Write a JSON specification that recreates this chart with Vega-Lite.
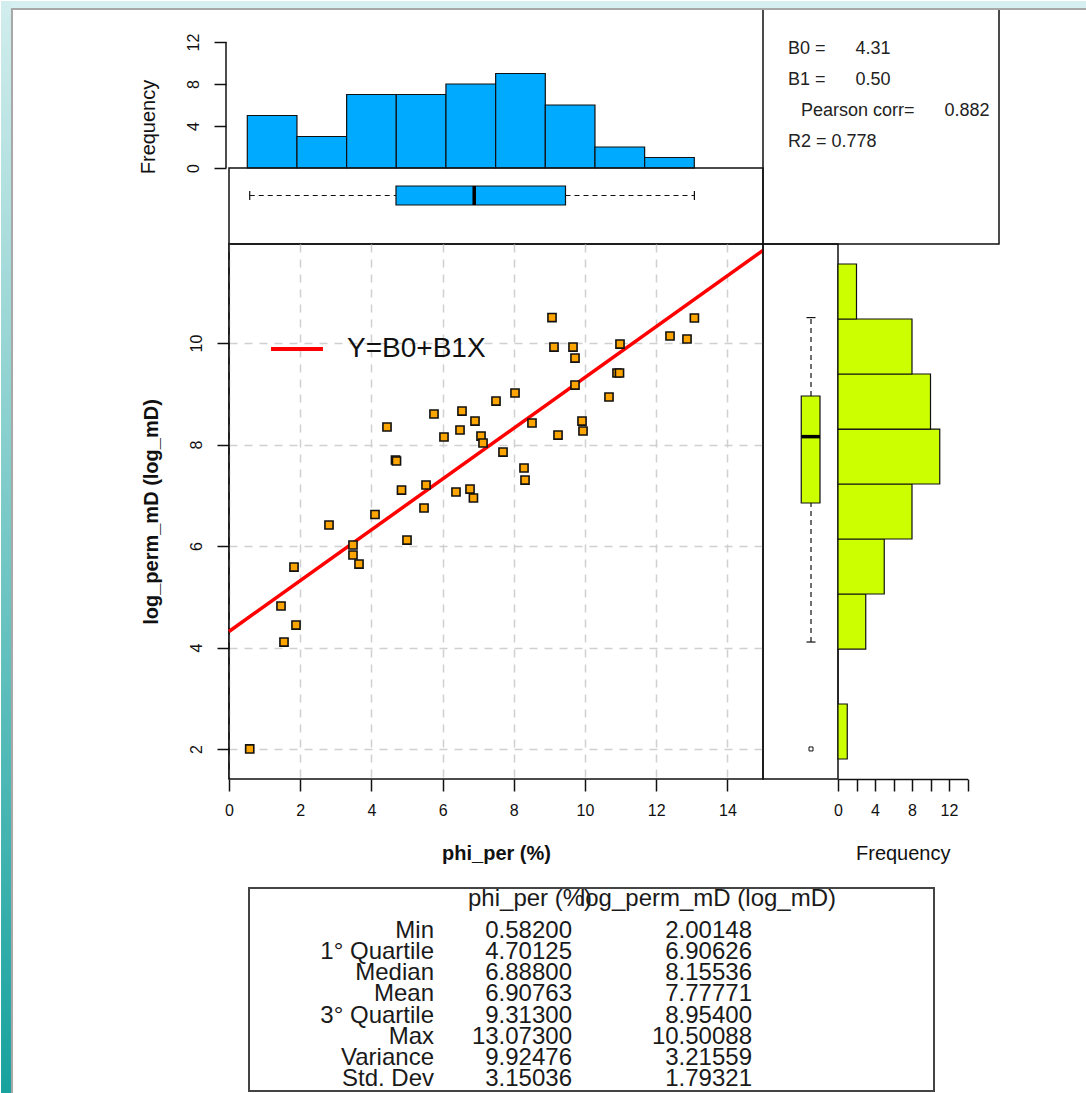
{
  "$schema": "https://vega.github.io/schema/vega-lite/v6.json",
  "padding": 0,
  "background": "white",
  "config": {
    "font": "Liberation Sans",
    "axis": {"labelFont": "Liberation Sans", "titleFont": "Liberation Sans", "labelColor": "#111", "tickColor": "#111", "domainColor": "#111", "titleColor": "#111", "labelFontSize": 16, "titleFontSize": 20, "tickWidth": 1.5, "domainWidth": 1.5, "titleFontWeight": "normal", "labelFlush": false, "labelOverlap": false},
    "legend": {"labelFont": "Liberation Sans"}
  },
  "datasets": {
    "pts": [
      {"x": 0.582, "y": 2.001}, {"x": 1.461, "y": 4.818}, {"x": 1.545, "y": 4.108}, {"x": 1.826, "y": 5.586}, {"x": 1.882, "y": 4.443},
      {"x": 2.809, "y": 6.414}, {"x": 3.483, "y": 6.020}, {"x": 3.483, "y": 5.823}, {"x": 3.652, "y": 5.645}, {"x": 4.101, "y": 6.621},
      {"x": 4.438, "y": 8.345}, {"x": 4.677, "y": 7.695}, {"x": 4.705, "y": 7.675}, {"x": 4.846, "y": 7.103}, {"x": 5.000, "y": 6.118},
      {"x": 5.478, "y": 6.749}, {"x": 5.534, "y": 7.202}, {"x": 5.758, "y": 8.601}, {"x": 6.039, "y": 8.148}, {"x": 6.376, "y": 7.064},
      {"x": 6.489, "y": 8.286}, {"x": 6.545, "y": 8.660}, {"x": 6.770, "y": 7.123}, {"x": 6.866, "y": 6.946}, {"x": 6.910, "y": 8.463},
      {"x": 7.079, "y": 8.167}, {"x": 7.135, "y": 8.030}, {"x": 7.500, "y": 8.857}, {"x": 7.697, "y": 7.852}, {"x": 8.034, "y": 9.015},
      {"x": 8.287, "y": 7.537}, {"x": 8.315, "y": 7.300}, {"x": 8.511, "y": 8.424}, {"x": 9.073, "y": 10.501}, {"x": 9.129, "y": 9.921},
      {"x": 9.242, "y": 8.187}, {"x": 9.663, "y": 9.921}, {"x": 9.719, "y": 9.704}, {"x": 9.719, "y": 9.172}, {"x": 9.916, "y": 8.463},
      {"x": 9.944, "y": 8.266}, {"x": 10.674, "y": 8.936}, {"x": 10.899, "y": 9.409}, {"x": 10.969, "y": 9.409}, {"x": 10.983, "y": 9.980},
      {"x": 12.388, "y": 10.138}, {"x": 12.865, "y": 10.079}, {"x": 13.073, "y": 10.493}
    ],
    "th": [
      {"b0": 0.514, "b1": 1.909, "n": 5}, {"b0": 1.909, "b1": 3.304, "n": 3}, {"b0": 3.304, "b1": 4.699, "n": 7},
      {"b0": 4.699, "b1": 6.094, "n": 7}, {"b0": 6.094, "b1": 7.490, "n": 8}, {"b0": 7.490, "b1": 8.885, "n": 9},
      {"b0": 8.885, "b1": 10.280, "n": 6}, {"b0": 10.280, "b1": 11.675, "n": 2}, {"b0": 11.675, "b1": 13.070, "n": 1}
    ],
    "rh": [
      {"b0": 1.803, "b1": 2.887, "n": 1}, {"b0": 2.887, "b1": 3.970, "n": 0}, {"b0": 3.970, "b1": 5.054, "n": 3},
      {"b0": 5.054, "b1": 6.138, "n": 5}, {"b0": 6.138, "b1": 7.222, "n": 8}, {"b0": 7.222, "b1": 8.305, "n": 11},
      {"b0": 8.305, "b1": 9.389, "n": 10}, {"b0": 9.389, "b1": 10.473, "n": 8}, {"b0": 10.473, "b1": 11.557, "n": 2}
    ],
    "xbox": [{"lo": 0.582, "q1": 4.691, "med": 6.888, "q3": 9.452, "hi": 13.073}],
    "ybox": [{"lo": 4.108, "q1": 6.847, "med": 8.155, "q3": 8.956, "hi": 10.501}],
    "stats": [
      {"line": 1, "t": "B0 =\u00a0\u00a0\u00a0\u00a0\u00a0\u00a04.31"},
      {"line": 2, "t": "B1 =\u00a0\u00a0\u00a0\u00a0\u00a0\u00a00.50"},
      {"line": 3, "t": "Pearson corr=\u00a0\u00a0\u00a0\u00a0\u00a0\u00a00.882"},
      {"line": 4, "t": "R2 = 0.778"}
    ],
    "tbl": [
      {"r": 1, "stat": "Min", "phi": "0.58200", "perm": "2.00148"},
      {"r": 2, "stat": "1° Quartile", "phi": "4.70125", "perm": "6.90626"},
      {"r": 3, "stat": "Median", "phi": "6.88800", "perm": "8.15536"},
      {"r": 4, "stat": "Mean", "phi": "6.90763", "perm": "7.77771"},
      {"r": 5, "stat": "3° Quartile", "phi": "9.31300", "perm": "8.95400"},
      {"r": 6, "stat": "Max", "phi": "13.07300", "perm": "10.50088"},
      {"r": 7, "stat": "Variance", "phi": "9.92476", "perm": "3.21559"},
      {"r": 8, "stat": "Std. Dev", "phi": "3.15036", "perm": "1.79321"}
    ]
  },
  "columns": 3,
  "align": "none",
  "bounds": "flush",
  "spacing": 0,
  "concat": [
    {
      "width": 534, "height": 235,
      "view": {"stroke": null},
      "layer": [
        {
          "data": {"name": "th"},
          "mark": {"type": "rect", "fill": "#00AAFF", "stroke": "#111", "strokeWidth": 1.2},
          "encoding": {
            "x": {"field": "b0", "type": "quantitative", "scale": {"domain": [0, 15], "nice": false, "zero": false}, "axis": null},
            "x2": {"field": "b1"},
            "y": {"field": "n", "type": "quantitative", "scale": {"domain": [-7.238, 15.143], "nice": false, "zero": false},
              "axis": {"values": [0, 2, 4, 6, 8, 10, 12], "labelExpr": "datum.value % 4 == 0 ? datum.label : ''", "labelAngle": -90, "labelAlign": "center", "labelBaseline": "alphabetic", "tickSize": 12, "labelPadding": 16, "offset": 3, "domain": false, "grid": false, "title": "Frequency", "titlePadding": 27}},
            "y2": {"datum": 0}
          }
        },
        {
          "data": {"values": [{}]},
          "mark": {"type": "rect", "filled": false, "stroke": "#111", "strokeWidth": 1.5},
          "encoding": {"x": {"datum": 0}, "x2": {"datum": 15}, "y": {"datum": 0}, "y2": {"datum": -7.238}}
        },
        {
          "data": {"values": [{}]},
          "mark": {"type": "rule", "color": "#111", "strokeWidth": 1.5},
          "encoding": {"x": {"datum": -0.0843}, "y": {"datum": 0}, "y2": {"datum": 12}}
        },
        {
          "data": {"name": "xbox"},
          "mark": {"type": "rule", "color": "#111", "strokeWidth": 1.2, "strokeDash": [5, 4]},
          "encoding": {"x": {"field": "lo", "type": "quantitative"}, "x2": {"field": "q1"}, "y": {"datum": -2.62}}
        },
        {
          "data": {"name": "xbox"},
          "mark": {"type": "rule", "color": "#111", "strokeWidth": 1.2, "strokeDash": [5, 4]},
          "encoding": {"x": {"field": "q3", "type": "quantitative"}, "x2": {"field": "hi"}, "y": {"datum": -2.62}}
        },
        {
          "data": {"name": "xbox"},
          "mark": {"type": "rule", "color": "#111", "strokeWidth": 1.2},
          "encoding": {"x": {"field": "lo", "type": "quantitative"}, "y": {"datum": -2.19}, "y2": {"datum": -3.05}}
        },
        {
          "data": {"name": "xbox"},
          "mark": {"type": "rule", "color": "#111", "strokeWidth": 1.2},
          "encoding": {"x": {"field": "hi", "type": "quantitative"}, "y": {"datum": -2.19}, "y2": {"datum": -3.05}}
        },
        {
          "data": {"name": "xbox"},
          "mark": {"type": "rect", "fill": "#00AAFF", "stroke": "#111", "strokeWidth": 1.2},
          "encoding": {"x": {"field": "q1", "type": "quantitative"}, "x2": {"field": "q3"}, "y": {"datum": -1.714}, "y2": {"datum": -3.524}}
        },
        {
          "data": {"name": "xbox"},
          "mark": {"type": "rule", "color": "#000", "strokeWidth": 3.5},
          "encoding": {"x": {"field": "med", "type": "quantitative"}, "y": {"datum": -1.714}, "y2": {"datum": -3.524}}
        }
      ]
    },
    {
      "width": 75, "height": 235,
      "view": {"stroke": null},
      "layer": [
        {
          "data": {"values": [{}]},
          "mark": {"type": "rect", "filled": false, "stroke": "#111", "strokeWidth": 1.5},
          "encoding": {
            "x": {"datum": 0, "type": "quantitative", "scale": {"domain": [0, 75], "nice": false, "zero": false}, "axis": null},
            "x2": {"datum": 236},
            "y": {"datum": -0.29, "type": "quantitative", "scale": {"domain": [-0.29, 7.29], "reverse": true, "nice": false, "zero": false}, "axis": null},
            "y2": {"datum": 7.29}
          }
        },
        {
          "data": {"name": "stats"},
          "transform": [{"filter": "datum.line != 3"}],
          "mark": {"type": "text", "align": "left", "baseline": "middle", "fontSize": 18, "color": "#222"},
          "encoding": {"x": {"datum": 25}, "y": {"field": "line", "type": "quantitative"}, "text": {"field": "t"}}
        },
        {
          "data": {"name": "stats"},
          "transform": [{"filter": "datum.line == 3"}],
          "mark": {"type": "text", "align": "left", "baseline": "middle", "fontSize": 18, "color": "#222"},
          "encoding": {"x": {"datum": 38}, "y": {"field": "line", "type": "quantitative"}, "text": {"field": "t"}}
        }
      ]
    },
    {
      "width": 1, "height": 235,
      "view": {"stroke": null},
      "data": {"values": [{}]},
      "mark": {"type": "text"},
      "encoding": {"text": {"value": ""}}
    },
    {
      "width": 534, "height": 535,
      "view": {"stroke": "#111", "strokeWidth": 1.5},
      "layer": [
        {
          "data": {"values": [{}]},
          "mark": {"type": "rect", "fill": {"gradient": "linear", "x1": 0, "y1": 0, "x2": 0, "y2": 1, "stops": [{"offset": 0, "color": "#d2eded"}, {"offset": 1, "color": "#17a29e"}]}},
          "encoding": {"x": {"datum": -6.404}, "x2": {"datum": -6.124}, "y": {"datum": 16.739}, "y2": {"datum": -4.798}}
        },
        {
          "data": {"values": [{}]},
          "mark": {"type": "rect", "fill": "#d6eff1"},
          "encoding": {"x": {"datum": -6.124}, "x2": {"datum": 24.101}, "y": {"datum": 16.739}, "y2": {"datum": 16.601}}
        },
        {
          "data": {"values": [{}]},
          "mark": {"type": "rect", "fill": "#a8a8a8"},
          "encoding": {"x": {"datum": -6.124}, "x2": {"datum": -6.067}, "y": {"datum": 16.601}, "y2": {"datum": -4.798}}
        },
        {
          "data": {"values": [{}]},
          "mark": {"type": "rect", "fill": "#a8a8a8"},
          "encoding": {"x": {"datum": -6.124}, "x2": {"datum": 24.101}, "y": {"datum": 16.601}, "y2": {"datum": 16.562}}
        },
        {
          "data": {"values": [{}]},
          "mark": {"type": "rule", "color": "#111", "strokeWidth": 1.5},
          "encoding": {"x": {"datum": 0}, "y": {"datum": 1.409}, "y2": {"datum": 11.951}}
        },
        {
          "data": {"name": "pts"},
          "transform": [{"regression": "y", "on": "x", "extent": [0, 15]}],
          "mark": {"type": "line", "strokeWidth": 3.5},
          "encoding": {
            "x": {"field": "x", "type": "quantitative", "title": "phi_per (%)"},
            "y": {"field": "y", "type": "quantitative", "title": "log_perm_mD (log_mD)"},
            "color": {"datum": "Y=B0+B1X", "type": "nominal", "scale": {"range": ["#ff0000"]},
              "legend": {"orient": "none", "legendX": 40, "legendY": 312, "title": null, "symbolType": "stroke", "symbolSize": 2700, "symbolStrokeWidth": 4, "labelFontSize": 28, "labelOffset": 22, "padding": 0, "labelColor": "#111"}}
          }
        },
        {
          "data": {"name": "pts"},
          "mark": {"type": "point", "shape": "square", "filled": true, "fill": "#FFA500", "stroke": "#111", "strokeWidth": 1.6, "size": 66, "opacity": 1},
          "encoding": {
            "x": {"field": "x", "type": "quantitative", "scale": {"domain": [0, 15], "nice": false, "zero": false},
              "axis": {"values": [0, 2, 4, 6, 8, 10, 12, 14], "tickSize": 12, "labelPadding": 11, "domain": false, "grid": true, "gridDash": [8, 7], "gridColor": "#d0d0d0", "gridWidth": 1.5, "title": "phi_per (%)", "titleFontWeight": "bold", "titlePadding": 25}},
            "y": {"field": "y", "type": "quantitative", "scale": {"domain": [1.409, 11.951], "nice": false, "zero": false},
              "axis": {"values": [2, 4, 6, 8, 10], "labelAngle": -90, "labelAlign": "center", "labelBaseline": "alphabetic", "tickSize": 12, "labelPadding": 16, "domain": false, "grid": true, "gridDash": [8, 7], "gridColor": "#d0d0d0", "gridWidth": 1.5, "title": "log_perm_mD (log_mD)", "titleFontWeight": "bold", "titlePadding": 27}}
          }
        }
      ]
    },
    {
      "width": 75, "height": 535,
      "view": {"stroke": "#111", "strokeWidth": 1.5},
      "layer": [
        {
          "data": {"name": "ybox"},
          "mark": {"type": "rule", "color": "#111", "strokeWidth": 1.2, "strokeDash": [5, 4]},
          "encoding": {
            "x": {"datum": 0.64, "type": "quantitative", "scale": {"domain": [0, 1], "nice": false, "zero": false}, "axis": null},
            "y": {"field": "lo", "type": "quantitative", "scale": {"domain": [1.409, 11.951], "nice": false, "zero": false}, "axis": null},
            "y2": {"field": "q1"}
          }
        },
        {
          "data": {"name": "ybox"},
          "mark": {"type": "rule", "color": "#111", "strokeWidth": 1.2, "strokeDash": [5, 4]},
          "encoding": {"x": {"datum": 0.64}, "y": {"field": "q3", "type": "quantitative"}, "y2": {"field": "hi"}}
        },
        {
          "data": {"name": "ybox"},
          "mark": {"type": "rule", "color": "#111", "strokeWidth": 1.2},
          "encoding": {"x": {"datum": 0.58}, "x2": {"datum": 0.70}, "y": {"field": "lo", "type": "quantitative"}}
        },
        {
          "data": {"name": "ybox"},
          "mark": {"type": "rule", "color": "#111", "strokeWidth": 1.2},
          "encoding": {"x": {"datum": 0.58}, "x2": {"datum": 0.70}, "y": {"field": "hi", "type": "quantitative"}}
        },
        {
          "data": {"name": "ybox"},
          "mark": {"type": "rect", "fill": "#CCFF00", "stroke": "#111", "strokeWidth": 1.2},
          "encoding": {"x": {"datum": 0.51}, "x2": {"datum": 0.76}, "y": {"field": "q1", "type": "quantitative"}, "y2": {"field": "q3"}}
        },
        {
          "data": {"name": "ybox"},
          "mark": {"type": "rule", "color": "#000", "strokeWidth": 3.5},
          "encoding": {"x": {"datum": 0.51}, "x2": {"datum": 0.76}, "y": {"field": "med", "type": "quantitative"}}
        },
        {
          "data": {"name": "pts"},
          "transform": [{"filter": "datum.y < 3"}],
          "mark": {"type": "point", "shape": "square", "filled": false, "stroke": "#111", "strokeWidth": 1, "size": 16, "opacity": 1},
          "encoding": {"x": {"datum": 0.64}, "y": {"field": "y", "type": "quantitative"}}
        }
      ]
    },
    {
      "width": 129.5, "height": 535,
      "view": {"stroke": null},
      "data": {"name": "rh"},
      "mark": {"type": "rect", "fill": "#CCFF00", "stroke": "#111", "strokeWidth": 1.2},
      "encoding": {
        "x": {"field": "n", "type": "quantitative", "scale": {"domain": [0, 14], "nice": false, "zero": false},
          "axis": {"values": [0, 2, 4, 6, 8, 10, 12, 14], "labelExpr": "datum.value % 4 == 0 ? datum.label : ''", "tickSize": 12, "labelPadding": 11, "domain": true, "grid": false, "title": "Frequency", "titlePadding": 25}},
        "x2": {"datum": 0},
        "y": {"field": "b0", "type": "quantitative", "scale": {"domain": [1.409, 11.951], "nice": false, "zero": false}, "axis": null},
        "y2": {"field": "b1"}
      }
    },
    {
      "width": 534, "height": 312,
      "view": {"stroke": null},
      "layer": [
        {
          "data": {"name": "tbl"},
          "mark": {"type": "text", "align": "right", "baseline": "middle", "fontSize": 24, "color": "#1a1a1a"},
          "encoding": {
            "x": {"datum": 185, "type": "quantitative", "scale": {"domain": [-20, 514], "nice": false, "zero": false}, "axis": null},
            "y": {"field": "r", "type": "quantitative", "scale": {"domain": [-6.19, 8.568], "reverse": true, "nice": false, "zero": false}, "axis": null},
            "text": {"field": "stat"}
          }
        },
        {
          "data": {"values": [{}]},
          "mark": {"type": "rect", "filled": false, "stroke": "#444", "strokeWidth": 2},
          "encoding": {"x": {"datum": 0}, "x2": {"datum": 685}, "y": {"datum": -1.034}, "y2": {"datum": 8.568}}
        },
        {
          "data": {"name": "tbl"},
          "mark": {"type": "text", "align": "right", "baseline": "middle", "fontSize": 24, "color": "#1a1a1a"},
          "encoding": {"x": {"datum": 323}, "y": {"field": "r", "type": "quantitative"}, "text": {"field": "phi"}}
        },
        {
          "data": {"name": "tbl"},
          "mark": {"type": "text", "align": "right", "baseline": "middle", "fontSize": 24, "color": "#1a1a1a"},
          "encoding": {"x": {"datum": 503}, "y": {"field": "r", "type": "quantitative"}, "text": {"field": "perm"}}
        },
        {
          "data": {"values": [{"h": "phi_per (%)"}]},
          "mark": {"type": "text", "align": "left", "baseline": "middle", "fontSize": 24, "color": "#1a1a1a"},
          "encoding": {"x": {"datum": 219}, "y": {"datum": -0.514}, "text": {"field": "h"}}
        },
        {
          "data": {"values": [{"h": "log_perm_mD (log_mD)"}]},
          "mark": {"type": "text", "align": "right", "baseline": "middle", "fontSize": 24, "color": "#1a1a1a"},
          "encoding": {"x": {"datum": 587}, "y": {"datum": -0.514}, "text": {"field": "h"}}
        }
      ]
    }
  ]
}
